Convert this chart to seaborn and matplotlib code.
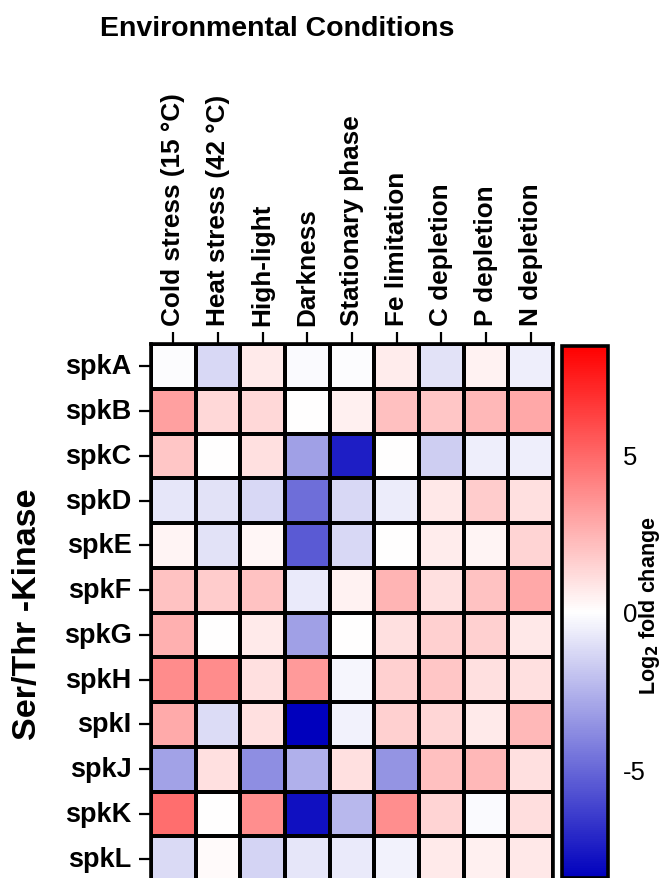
import numpy as np
import pandas as pd
import matplotlib
matplotlib.use("Agg")
import matplotlib.pyplot as plt
import seaborn as sns
from matplotlib.colors import LinearSegmentedColormap

conditions = ["Cold stress (15 °C)", "Heat stress (42 °C)", "High-light", "Darkness",
              "Stationary phase", "Fe limitation", "C depletion", "P depletion", "N depletion"]
kinases = ["spkA", "spkB", "spkC", "spkD", "spkE", "spkF",
           "spkG", "spkH", "spkI", "spkJ", "spkK", "spkL"]

spkA = [-0.1, -1.3, 0.7, -0.15, -0.1, 0.65, -0.95, 0.4, -0.55]
spkB = [3.1, 1.3, 1.3, 0.0, 0.5, 2.1, 1.85, 2.35, 2.85]
spkC = [1.85, 0.0, 1.0, -3.1, -7.4, 0.05, -1.6, -0.55, -0.55]
spkD = [-0.8, -0.95, -1.3, -4.8, -1.3, -0.6, 0.75, 1.7, 1.05]
spkE = [0.35, -0.95, 0.3, -5.45, -1.3, 0.05, 0.6, 0.35, 1.4]
spkF = [2.0, 1.7, 2.0, -0.7, 0.4, 2.45, 1.0, 2.0, 2.85]
spkG = [2.6, 0.05, 0.7, -3.1, 0.0, 1.05, 1.55, 1.55, 0.75]
spkH = [3.8, 3.8, 1.05, 3.3, -0.3, 1.55, 1.85, 1.0, 1.05]
spkI = [2.8, -1.15, 1.05, -8.44, -0.4, 1.55, 1.35, 0.7, 2.35]
spkJ = [-3.05, 1.0, -3.7, -2.6, 1.0, -3.5, 2.1, 2.35, 1.05]
spkK = [4.75, 0.0, 3.7, -7.9, -2.35, 3.7, 1.4, -0.15, 1.1]
spkL = [-1.2, 0.15, -1.4, -0.8, -0.7, -0.4, 0.7, 0.5, 0.75]

cbar_ticks = [-5, 0, 5]
cbar_ticklabels = ["-5", "0", "5"]

df = pd.DataFrame([spkA, spkB, spkC, spkD, spkE, spkF, spkG, spkH, spkI, spkJ, spkK, spkL],
                  index=kinases, columns=conditions)

sns.set_theme(style="white")
plt.rcParams["font.family"] = ["Liberation Sans", "DejaVu Sans"]
plt.rcParams["axes.unicode_minus"] = False

W, H = 665, 879
fig = plt.figure(figsize=(W / 100, H / 100), dpi=100)
fig.patch.set_facecolor("white")

def rect(x0, y0, x1, y1):
    return [x0 / W, 1 - y1 / H, (x1 - x0) / W, (y1 - y0) / H]

ax = fig.add_axes(rect(151, 345, 553, 882))
cax = fig.add_axes(rect(562, 347, 608, 879))

cmap = LinearSegmentedColormap.from_list("bwr_prism", ["#0000BD", "#FFFFFF", "#FF0000"])

sns.heatmap(df, ax=ax, cbar_ax=cax, cmap=cmap, vmin=-8.44, vmax=8.44,
            linewidths=1.5, linecolor="black", square=False)

ax.xaxis.tick_top()
ax.set_xticklabels(conditions, rotation=90, fontsize=18.8, fontweight="bold", color="black")
ax.set_yticklabels(kinases, rotation=0, fontsize=19.5, fontweight="bold", color="black")
ax.tick_params(axis="x", top=True, bottom=False, labeltop=True, labelbottom=False,
               length=9, width=1.6, color="black", pad=5, direction="out")
ax.tick_params(axis="y", left=True, length=9, width=1.6, color="black", pad=5, direction="out")
ax.set_xlabel("")
ax.set_ylabel("")
for s in ax.spines.values():
    s.set_visible(True)
    s.set_linewidth(2.6)
    s.set_color("black")
    s.set_zorder(5)

cbar = ax.collections[0].colorbar
cbar.set_ticks(cbar_ticks)
cbar.set_ticklabels(cbar_ticklabels)
cbar.outline.set_linewidth(2.6)
cbar.outline.set_edgecolor("black")
cax.tick_params(axis="y", which="both", direction="in", left=True, right=True,
                length=6, width=1.6, color="black", labelsize=18.5, pad=11)
for t in cax.get_yticklabels():
    t.set_color("black")

fig.text(277 / W, 1 - 36 / H, "Environmental Conditions", ha="center", va="baseline",
         fontsize=20.5, fontweight="bold", color="black")
fig.text(28 / W, 1 - 614 / H, "Ser/Thr -Kinase", rotation=90, ha="center", va="center",
         fontsize=24.5, fontweight="bold", color="black")
fig.text(649 / W, 1 - 606 / H, "Log$_\\mathbf{2}$ fold change", rotation=90, ha="center",
         va="center", fontsize=15.5, fontweight="bold", color="black")

fig.savefig("out.png", dpi=100, facecolor="white")
